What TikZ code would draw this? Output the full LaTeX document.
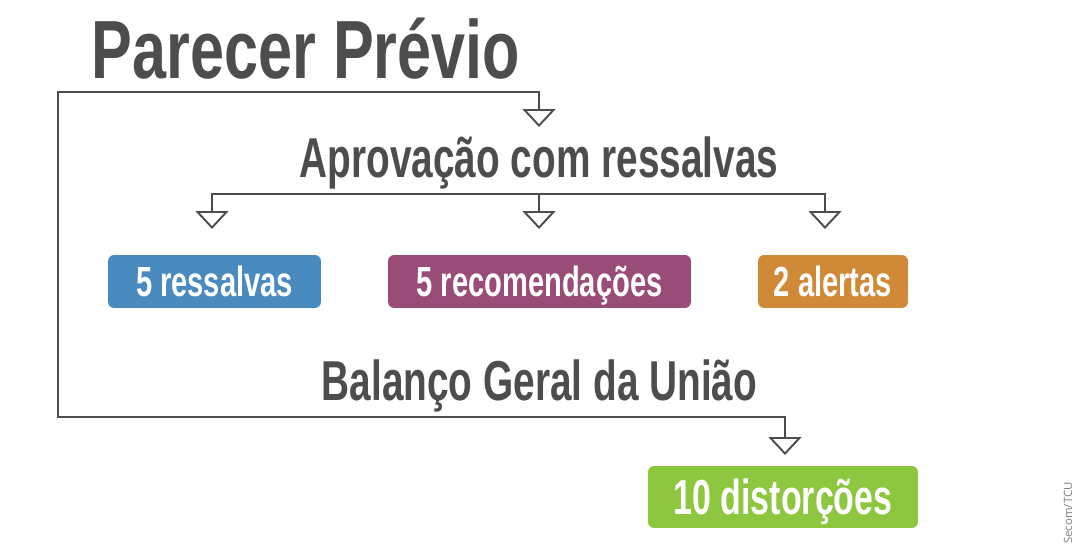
\documentclass[tikz,border=0pt]{standalone}
\usepackage{fontspec}
\setmainfont[FakeStretch=0.69]{Liberation Sans}
\newfontfamily\creditfont{Open Sans}
\usepackage{xcolor}
\usepackage{tikz}
\usetikzlibrary{arrows.meta,positioning}
\definecolor{inkgray}{HTML}{4D4D4D}
\definecolor{tagblue}{HTML}{4A8BBF}
\definecolor{tagpurple}{HTML}{994C78}
\definecolor{tagorange}{HTML}{D08936}
\definecolor{taggreen}{HTML}{8DC63F}
\tikzset{
  >={Triangle[open,length=3.6mm,width=6.6mm]},
  conn/.style={draw=inkgray, line width=1.1pt, ->},
  head/.style={text=inkgray, inner sep=0pt, anchor=base, font=\bfseries\fontsize{32}{36}\selectfont},
  tag/.style={rounded corners=3.5pt, text=white, inner sep=0pt, minimum height=1.06cm,
    text height=17.2pt, text depth=0pt, font=\bfseries\fontsize{24}{28}\selectfont},
}

\begin{document}
\begin{tikzpicture}[x=0.02cm, y=-0.02cm]
  \useasboundingbox[fill=white] (0,0) rectangle (1080,548);

  \node[head, font=\bfseries\fontsize{47}{52}\selectfont\addfontfeatures{FakeStretch=0.74}] (title) at (306,78) {Parecer Prévio};
  \node[head] (aprov) at (539,177) {Aprovação com ressalvas};

  \node[tag, fill=tagblue, minimum width=4.26cm] (ress) at (214.5,281.5) {5 ressalvas};
  \node[tag, fill=tagpurple, minimum width=6.06cm] (recom) at (539.5,281.5) {5 recomendações};
  \node[tag, fill=tagorange, minimum width=3.0cm] (alert) at (833,281.5) {2 alertas};

  \node[head] (bgu) at (539.5,400) {Balanço Geral da União};
  \node[tag, fill=taggreen, minimum width=5.4cm, minimum height=1.24cm, text height=20pt,
        font=\bfseries\fontsize{28}{32}\selectfont] (dist) at (783,497) {10 distorções};

  \node[rotate=90, text=gray, inner sep=0pt, font=\creditfont\fontsize{6.5}{7}\selectfont] (credit) at (1068,513) {Secom/TCU};

  % bracket lines
  \coordinate (top) at (58,92);
  \coordinate (bot) at (58,417);
  \coordinate (aprovin) at (539,127);
  \coordinate (distin) at (785,455);
  \draw[conn, <->] (aprovin) |- (top) -- (bot) -| (distin);

  \coordinate (fork) at (539,194);
  \coordinate (ressin) at (212,229);
  \coordinate (recomin) at (539,229);
  \coordinate (alertin) at (825,229);
  \draw[conn, <->] (ressin) |- (fork) -| (alertin);
  \draw[conn] (fork) -- (recomin);
\end{tikzpicture}
\end{document}
